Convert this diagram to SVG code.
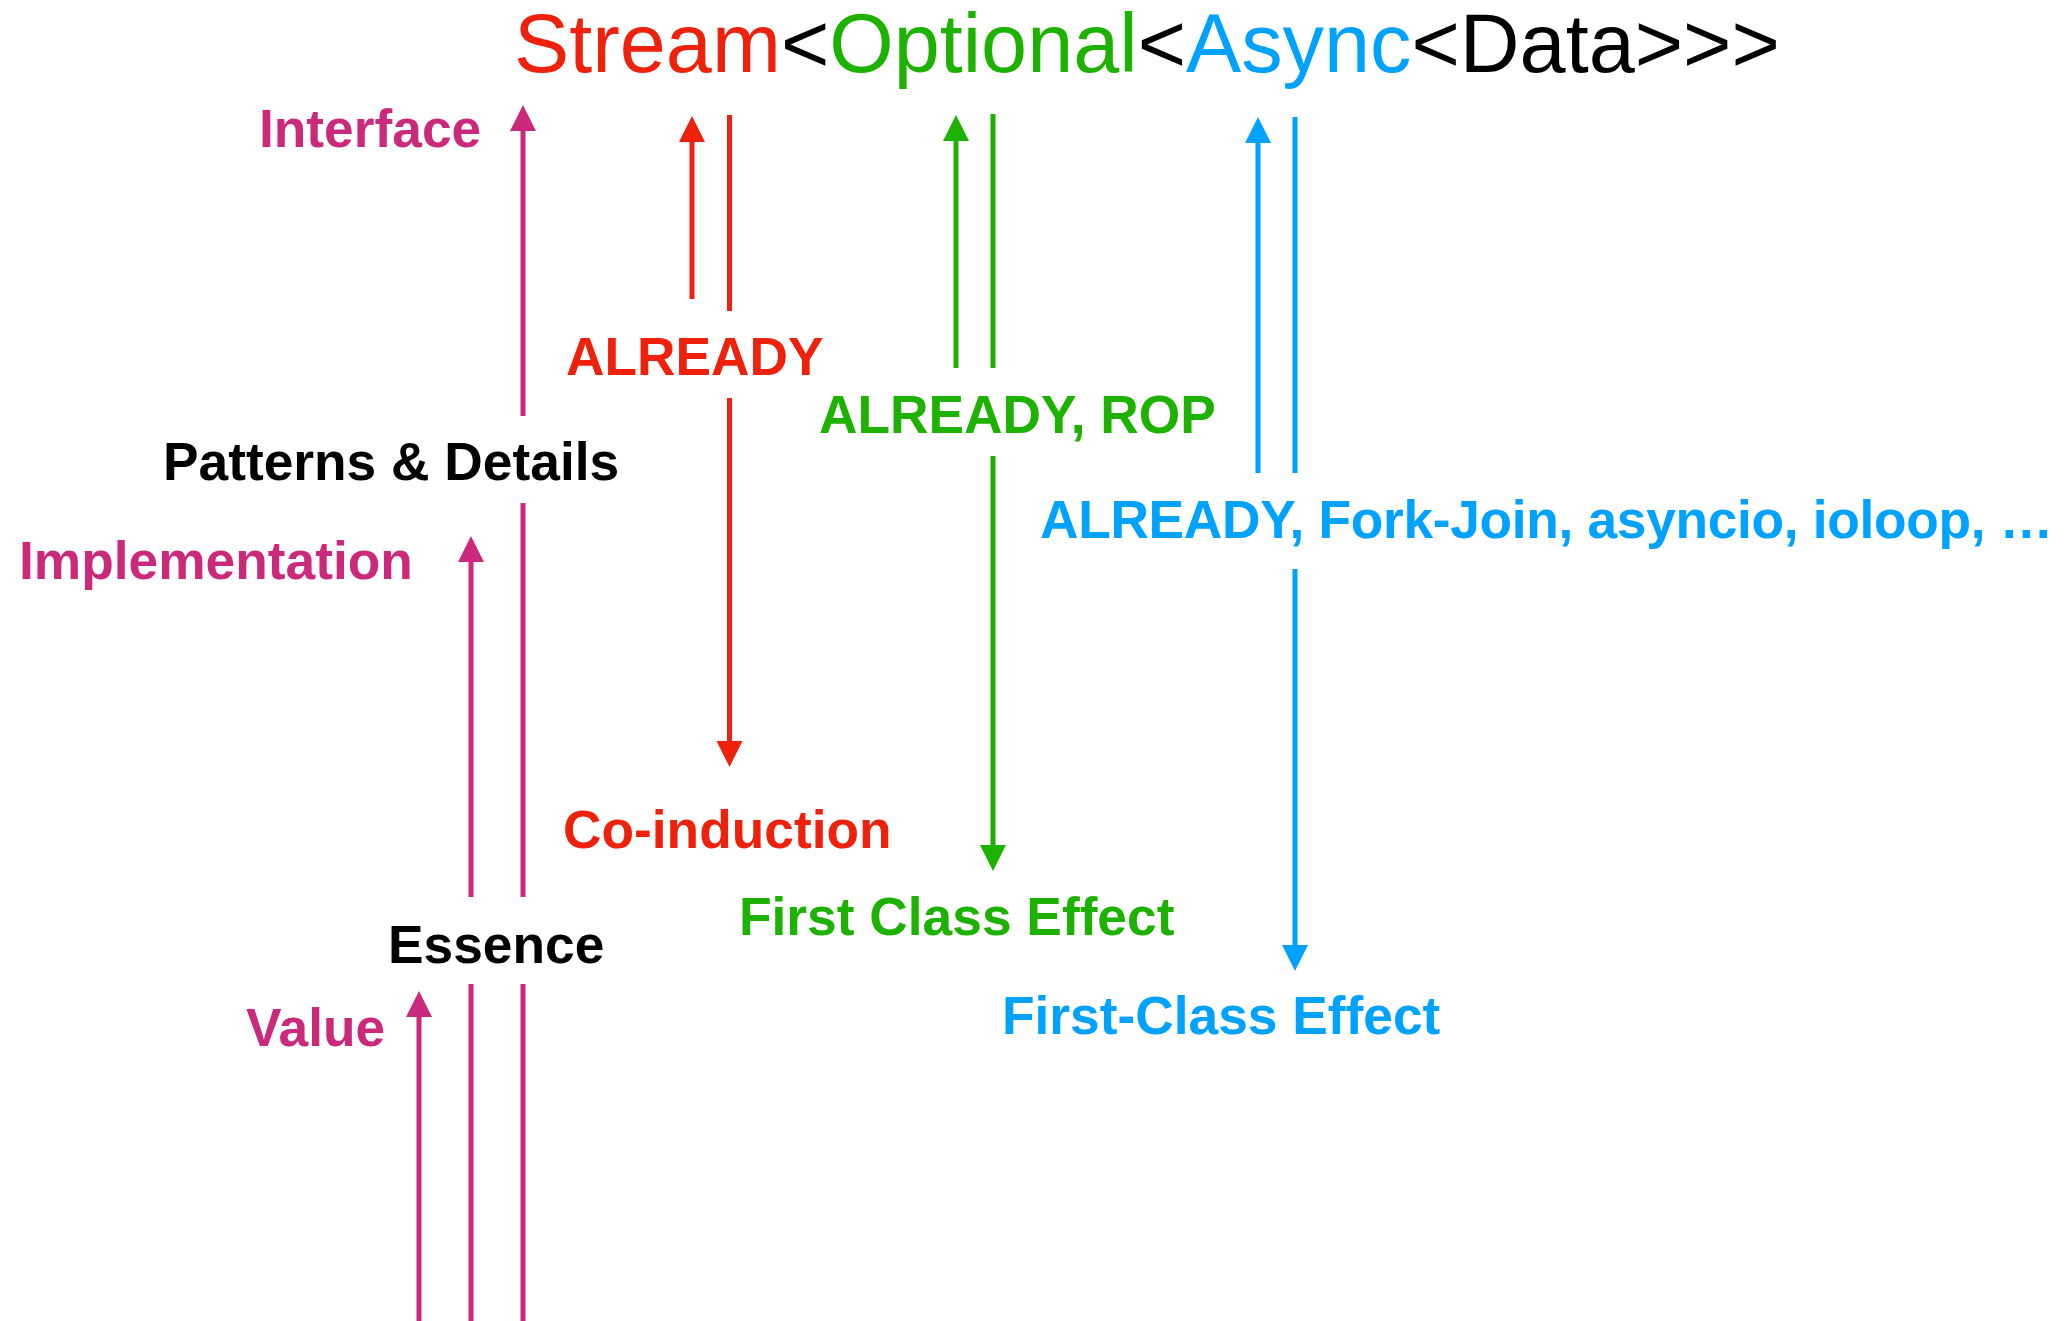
<svg xmlns="http://www.w3.org/2000/svg" width="2066" height="1321" viewBox="0 0 2066 1321">
  <style>
    text { font-family: "Liberation Sans", Arial, Helvetica, sans-serif; }
    .title { font-size: 82.8px; font-weight: 400; }
    .lbl { font-size: 53.3px; font-weight: 700; }
    .mag { fill: #CB297B; }
    .red { fill: #EE220C; }
    .grn { fill: #1DB100; }
    .blu { fill: #00A2FF; }
    .blk { fill: #000000; }
    .ln { stroke-width: 5; fill: none; }
    .s-mag { stroke: #CB297B; }
    .s-red { stroke: #EE220C; }
    .s-grn { stroke: #1DB100; }
    .s-blu { stroke: #00A2FF; }
  </style>
  <defs>
    <marker id="ah-mag" markerUnits="userSpaceOnUse" viewBox="0 0 26 26" refX="0" refY="13" markerWidth="26" markerHeight="26" orient="auto">
      <path d="M0,0 L26,13 L0,26 Z" fill="#CB297B"/>
    </marker>
    <marker id="ah-red" markerUnits="userSpaceOnUse" viewBox="0 0 26 26" refX="0" refY="13" markerWidth="26" markerHeight="26" orient="auto">
      <path d="M0,0 L26,13 L0,26 Z" fill="#EE220C"/>
    </marker>
    <marker id="ah-grn" markerUnits="userSpaceOnUse" viewBox="0 0 26 26" refX="0" refY="13" markerWidth="26" markerHeight="26" orient="auto">
      <path d="M0,0 L26,13 L0,26 Z" fill="#1DB100"/>
    </marker>
    <marker id="ah-blu" markerUnits="userSpaceOnUse" viewBox="0 0 26 26" refX="0" refY="13" markerWidth="26" markerHeight="26" orient="auto">
      <path d="M0,0 L26,13 L0,26 Z" fill="#00A2FF"/>
    </marker>
  </defs>

  <rect width="2066" height="1321" fill="#FFFFFF"/>

  <!-- type signature heading -->
  <g id="title">
    <text class="title" x="514" y="72"><tspan class="red">Stream</tspan><tspan class="blk">&lt;</tspan><tspan class="grn">Optional</tspan><tspan class="blk">&lt;</tspan><tspan class="blu">Async</tspan><tspan class="blk">&lt;Data&gt;&gt;&gt;</tspan></text>
  </g>

  <!-- left column: abstraction levels -->
  <g id="interface"><text class="lbl mag" x="259" y="147">Interface</text></g>
  <g id="patterns-details"><text class="lbl blk" x="163" y="480">Patterns &amp; Details</text></g>
  <g id="implementation"><text class="lbl mag" x="19" y="579">Implementation</text></g>
  <g id="essence"><text class="lbl blk" x="388" y="963">Essence</text></g>
  <g id="value"><text class="lbl mag" x="246" y="1046">Value</text></g>

  <!-- Stream column -->
  <g id="stream-already"><text class="lbl red" x="566" y="375">ALREADY</text></g>
  <g id="stream-coinduction"><text class="lbl red" x="563" y="848">Co-induction</text></g>

  <!-- Optional column -->
  <g id="optional-already"><text class="lbl grn" x="819" y="433">ALREADY, ROP</text></g>
  <g id="optional-effect"><text class="lbl grn" x="739" y="935">First Class Effect</text></g>

  <!-- Async column -->
  <g id="async-already"><text class="lbl blu" x="1040" y="538" textLength="1013" lengthAdjust="spacing">ALREADY, Fork-Join, asyncio, ioloop, …</text></g>
  <g id="async-effect"><text class="lbl blu" x="1002" y="1034">First-Class Effect</text></g>

  <!-- connectors -->
  <g id="connectors">
    <!-- magenta level arrows -->
    <line class="ln s-mag" x1="523" y1="416" x2="523" y2="131" marker-end="url(#ah-mag)"/>
    <line class="ln s-mag" x1="523" y1="503" x2="523" y2="897"/>
    <line class="ln s-mag" x1="471" y1="897" x2="471" y2="562" marker-end="url(#ah-mag)"/>
    <line class="ln s-mag" x1="523" y1="984" x2="523" y2="1321"/>
    <line class="ln s-mag" x1="471" y1="984" x2="471" y2="1321"/>
    <line class="ln s-mag" x1="419" y1="1321" x2="419" y2="1017" marker-end="url(#ah-mag)"/>

    <!-- Stream -->
    <line class="ln s-red" x1="692" y1="299" x2="692" y2="142" marker-end="url(#ah-red)"/>
    <line class="ln s-red" x1="729.5" y1="115" x2="729.5" y2="311"/>
    <line class="ln s-red" x1="729.5" y1="398" x2="729.5" y2="741" marker-end="url(#ah-red)"/>

    <!-- Optional -->
    <line class="ln s-grn" x1="956" y1="368" x2="956" y2="141" marker-end="url(#ah-grn)"/>
    <line class="ln s-grn" x1="993" y1="114" x2="993" y2="368"/>
    <line class="ln s-grn" x1="993" y1="456" x2="993" y2="845" marker-end="url(#ah-grn)"/>

    <!-- Async -->
    <line class="ln s-blu" x1="1258" y1="473" x2="1258" y2="143" marker-end="url(#ah-blu)"/>
    <line class="ln s-blu" x1="1295" y1="117" x2="1295" y2="473"/>
    <line class="ln s-blu" x1="1295" y1="569" x2="1295" y2="945" marker-end="url(#ah-blu)"/>
  </g>
</svg>
